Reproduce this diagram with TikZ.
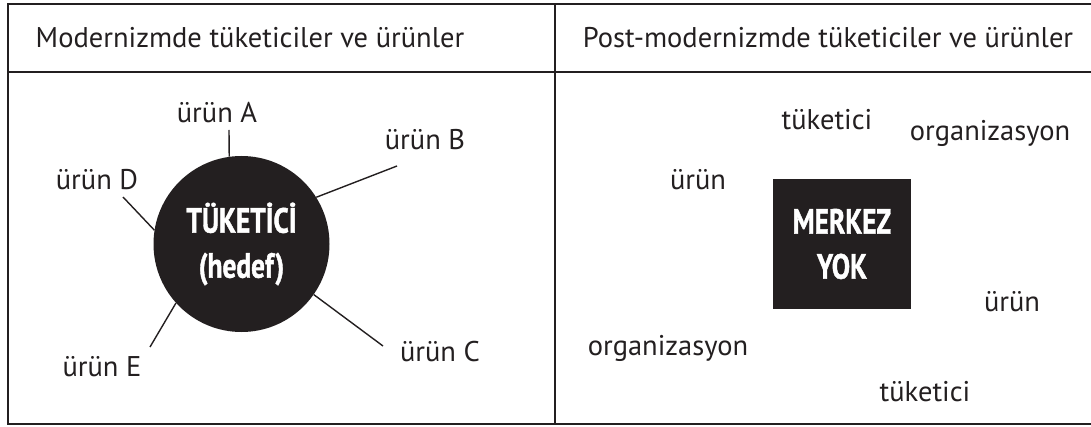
\documentclass[tikz,border=0pt]{standalone}
\usepackage{fontspec}
\setmainfont{PT Sans}
\newfontfamily\condbold{PT Sans}[UprightFont={* Bold},FakeStretch=0.78,FakeBold=1.2]
\usetikzlibrary{positioning}
\definecolor{ink}{HTML}{231F20}

\tikzset{
  lbl/.style={text=ink, inner sep=0pt, font=\fontsize{28.5}{32}\selectfont},
  spoke/.style={draw=ink, line width=1.4pt},
  frame/.style={draw=ink, line width=2.4pt},
  core/.style={fill=ink, text=white, inner sep=0pt, align=center,
    font=\condbold\fontsize{35}{45}\selectfont}
}

\begin{document}
\begin{tikzpicture}[x=1pt,y=-1pt]
\useasboundingbox (0,0) rectangle (1091,427);

% frame and headers
\coordinate (tl) at (8,4);
\coordinate (tr) at (1091,4);
\coordinate (bl) at (8,424);
\coordinate (br) at (1091,424);
\coordinate (hl) at (8,72);
\coordinate (hr) at (1091,72);
\coordinate (mt) at (555,4);
\coordinate (mb) at (555,424);
\draw[frame] (tr) -- (tl) -- (bl) -- (br);
\draw[frame, line width=1.8pt] (hl) -- (hr) (mt) -- (mb);

\node[lbl] (h1) at (250,38) {Modernizmde tüketiciler ve ürünler};
\node[lbl] (h2) at (828,38) {Post-modernizmde tüketiciler ve ürünler};

% left: one centre
\node[core, circle, minimum size=176pt] (tuk) at (241.5,244) {TÜKETİCİ\\(hedef)};

\coordinate (eA) at (229,130);
\coordinate (eB) at (397,166);
\coordinate (eC) at (383,346);
\coordinate (eD) at (123,197);
\coordinate (eE) at (150,347);

\node[lbl] (uA) at (217,113) {ürün A};
\node[lbl] (uB) at (425,140) {ürün B};
\node[lbl] (uC) at (440,352) {ürün C};
\node[lbl] (uD) at (97,180) {ürün D};
\node[lbl] (uE) at (102,367) {ürün E};

\draw[spoke]
    (tuk.98) edge (eA)
    (tuk.32) edge (eB)
    (tuk.325) edge (eC)
    (tuk.171) edge (eD)
    (tuk.222) edge (eE)
    ;

% right: no centre
\node[core, minimum width=138pt, minimum height=130pt] (mrk) at (842,244) {MERKEZ\\YOK};

\node[lbl] (t1) at (827,120) {tüketici};
\node[lbl] (o1) at (990,133) {organizasyon};
\node[lbl] (p1) at (698,180) {ürün};
\node[lbl] (p2) at (1012,302) {ürün};
\node[lbl] (o2) at (668,348) {organizasyon};
\node[lbl] (t2) at (925,392) {tüketici};
\end{tikzpicture}
\end{document}
